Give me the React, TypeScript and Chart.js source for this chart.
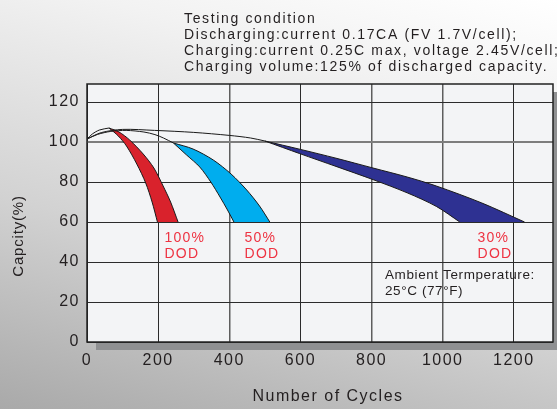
import React, { useEffect, useRef } from 'react';
import { Chart, registerables } from 'chart.js';

Chart.register(...registerables);

const FONT = '"Liberation Sans", Arial, sans-serif';

// Axis ticks
const xTicks = [0, 200, 400, 600, 800, 1000, 1200];
const yTicks = [0, 20, 40, 60, 80, 100, 120];

// Thin black capacity lines before the knee
const redLine = [
  { x: 0, y: 101.5 }, { x: 15, y: 104 }, { x: 35, y: 106 }, { x: 62, y: 107 },
];
const cyanLine = [
  { x: 0, y: 101.5 }, { x: 30, y: 103.8 }, { x: 67, y: 105.3 }, { x: 110, y: 105.8 },
  { x: 160, y: 105 }, { x: 191, y: 103.7 }, { x: 215, y: 102 }, { x: 243, y: 99.5 },
];
const navyLine = [
  { x: 0, y: 101.5 }, { x: 40, y: 104.7 }, { x: 100, y: 106.3 }, { x: 190, y: 105.8 },
  { x: 300, y: 104.8 }, { x: 400, y: 103.3 }, { x: 460, y: 102 }, { x: 500, y: 100.5 },
];

// Bands: first edge runs tip -> bottom-left, second edge bottom-right -> tip
const redLeftEdge = [
  { x: 62, y: 107 }, { x: 88, y: 103 }, { x: 111, y: 98 }, { x: 140, y: 89 },
  { x: 165, y: 79.5 }, { x: 183, y: 70 }, { x: 198, y: 60 },
];
const redRightEdge = [
  { x: 256, y: 60 }, { x: 235, y: 70 }, { x: 214, y: 78 }, { x: 188, y: 87 },
  { x: 158, y: 94 }, { x: 120, y: 101 }, { x: 90, y: 105 }, { x: 62, y: 107 },
];
const cyanLeftEdge = [
  { x: 243, y: 99.5 }, { x: 280, y: 93.5 }, { x: 317, y: 87.5 }, { x: 348, y: 80 },
  { x: 374, y: 72.5 }, { x: 395, y: 66 }, { x: 413, y: 60 },
];
const cyanRightEdge = [
  { x: 514, y: 60 }, { x: 485, y: 68 }, { x: 449, y: 76 }, { x: 405, y: 84 },
  { x: 355, y: 91 }, { x: 298, y: 96.5 }, { x: 243, y: 99.5 },
];
const navyLowerEdge = [
  { x: 500, y: 100.5 }, { x: 598, y: 94.2 }, { x: 700, y: 87.8 }, { x: 804, y: 81.2 },
  { x: 900, y: 74.6 }, { x: 982, y: 67.8 }, { x: 1048, y: 60 },
];
const navyUpperEdge = [
  { x: 1230, y: 60 }, { x: 1110, y: 69.5 }, { x: 982, y: 78 }, { x: 900, y: 82.5 },
  { x: 804, y: 87 }, { x: 700, y: 91.9 }, { x: 600, y: 96.3 }, { x: 500, y: 100.5 },
];

const bandColors = ['#d9222c', '#00adee', '#2e3192'];

const conditionLines = [
  'Testing condition',
  'Discharging:current 0.17CA (FV 1.7V/cell);',
  'Charging:current 0.25C max, voltage 2.45V/cell;',
  'Charging volume:125% of discharged capacity.',
];
const dodLabels = [
  { x: 218, y: 52, text: ['100%', 'DOD'] },
  { x: 443, y: 52, text: ['50%', 'DOD'] },
  { x: 1098, y: 52, text: ['30%', 'DOD'] },
];
const ambientLines = ['Ambient Termperature:', '25\u00B0C (77\u00B0F)'];

function drawText(ctx: any, s: string, x: number, y: number, size: number, color: string, ls: number, align = 'left') {
  ctx.save();
  ctx.font = `${size}px ${FONT}`;
  ctx.fillStyle = color;
  ctx.textAlign = align;
  ctx.textBaseline = 'middle';
  ctx.letterSpacing = `${ls}px`;
  ctx.fillText(s, x, y);
  ctx.restore();
}

const decorPlugin = {
  id: 'decor',
  beforeLayout(chart: any) {
    chart.ctx.letterSpacing = '1.5px';
  },
  beforeDraw(chart: any) {
    const { ctx, chartArea: a } = chart;
    ctx.letterSpacing = '1.5px';
    ctx.save();
    ctx.fillStyle = '#8f9092';
    ctx.fillRect(a.left + 9, a.top + 8, a.right - a.left, a.bottom - a.top);
    ctx.fillStyle = '#f3f4f6';
    ctx.fillRect(a.left, a.top, a.right - a.left, a.bottom - a.top);
    ctx.restore();
  },
  beforeDatasetsDraw(chart: any) {
    const { ctx, chartArea: a } = chart;
    ctx.save();
    ctx.beginPath();
    ctx.rect(a.left, a.top, a.right - a.left, a.bottom - a.top);
    ctx.clip();
    for (let b = 0; b < 3; b++) {
      const l1 = chart.getDatasetMeta(3 + b * 2).dataset;
      const l2 = chart.getDatasetMeta(4 + b * 2).dataset;
      l1.updateControlPoints(a, 'x');
      l2.updateControlPoints(a, 'x');
      ctx.beginPath();
      l1.pathSegment(ctx, l1.segments[0], { move: true });
      l2.pathSegment(ctx, l2.segments[0], { move: false });
      ctx.closePath();
      ctx.fillStyle = bandColors[b];
      ctx.fill();
    }
    ctx.restore();
  },
  afterDatasetsDraw(chart: any) {
    const { ctx, chartArea: a } = chart;
    ctx.save();
    ctx.strokeStyle = '#222';
    ctx.lineWidth = 1.5;
    ctx.strokeRect(a.left, a.top, a.right - a.left, a.bottom - a.top);
    ctx.restore();
  },
  afterDraw(chart: any) {
    const { ctx, scales } = chart;
    const xs = scales.x;
    const ys = scales.y;
    conditionLines.forEach((s, i) => drawText(ctx, s, 184, 19 + i * 16, 14, '#231f20', 1.65));
    dodLabels.forEach((d) => {
      const px = xs.getPixelForValue(d.x);
      const py = ys.getPixelForValue(d.y);
      d.text.forEach((s, i) => drawText(ctx, s, px, py + i * 16, 14, '#ee3342', 1.2));
    });
    ambientLines.forEach((s, i) => drawText(ctx, s, 385, 275 + i * 16, 13.5, '#231f20', 0.6));
    drawText(ctx, 'Number of Cycles', 328, 397, 16, '#231f20', 1.5, 'center');
    ctx.save();
    ctx.translate(19, 236);
    ctx.rotate(-Math.PI / 2);
    drawText(ctx, 'Capcity(%)', 0, 0, 15, '#231f20', 0.8, 'center');
    ctx.restore();
  },
};

export default function App() {
  const ref = useRef<HTMLCanvasElement | null>(null);
  useEffect(() => {
    if (!ref.current) return;
    const lineDs = (data: any[]) => ({
      data,
      borderColor: '#1a1a1a',
      borderWidth: 1,
      pointRadius: 0,
      tension: 0.3,
      fill: false,
    });
    const chart = new Chart(ref.current, {
      type: 'line',
      data: {
        datasets: [
          lineDs(redLine),
          lineDs(cyanLine),
          lineDs(navyLine),
          lineDs(redLeftEdge),
          lineDs(redRightEdge),
          lineDs(cyanLeftEdge),
          lineDs(cyanRightEdge),
          lineDs(navyLowerEdge),
          lineDs(navyUpperEdge),
        ],
      },
      options: {
        animation: false,
        responsive: false,
        devicePixelRatio: 1,
        layout: { padding: { top: 84, right: 4, left: 0, bottom: 0 } },
        plugins: { legend: { display: false }, tooltip: { enabled: false } },
        scales: {
          x: {
            type: 'linear',
            min: 0,
            max: 1310,
            afterBuildTicks: (s: any) => { s.ticks = xTicks.map((v) => ({ value: v })); },
            afterFit: (s: any) => { s.height = 67; },
            ticks: {
              font: { family: FONT, size: 16 },
              color: '#231f20',
              padding: 9,
              maxRotation: 0,
              callback: (v: any) => String(v),
            },
            grid: {
              drawTicks: false,
              color: (c: any) => ([400, 800, 1000].includes(c.tick?.value) ? '#5e5e5e' : '#2b2b2b'),
              lineWidth: (c: any) => ([400, 800, 1000].includes(c.tick?.value) ? 1.5 : 1),
            },
            border: { display: false },
          },
          y: {
            min: 0,
            max: 129,
            afterBuildTicks: (s: any) => { s.ticks = yTicks.map((v) => ({ value: v })); },
            afterFit: (s: any) => { s.width = 87; },
            ticks: { font: { family: FONT, size: 16 }, color: '#231f20', padding: 7, callback: (v: any) => String(v) },
            grid: {
              drawTicks: false,
              color: (c: any) => (c.tick?.value === 100 ? '#7d7d7d' : '#2b2b2b'),
              lineWidth: (c: any) => (c.tick?.value === 100 ? 2 : 1),
            },
            border: { display: false },
          },
        },
      } as any,
      plugins: [decorPlugin],
    });
    return () => chart.destroy();
  }, []);
  return (
    <div
      style={{
        position: 'fixed',
        left: 0,
        top: 0,
        width: 557,
        height: 409,
        background: 'linear-gradient(195deg, #ffffff 0%, #f2f2f2 22%, #d2d2d2 62%, #a9a9a9 100%)',
      }}
    >
      <canvas ref={ref} width={557} height={409} style={{ display: 'block', width: 557, height: 409 }} />
    </div>
  );
}
